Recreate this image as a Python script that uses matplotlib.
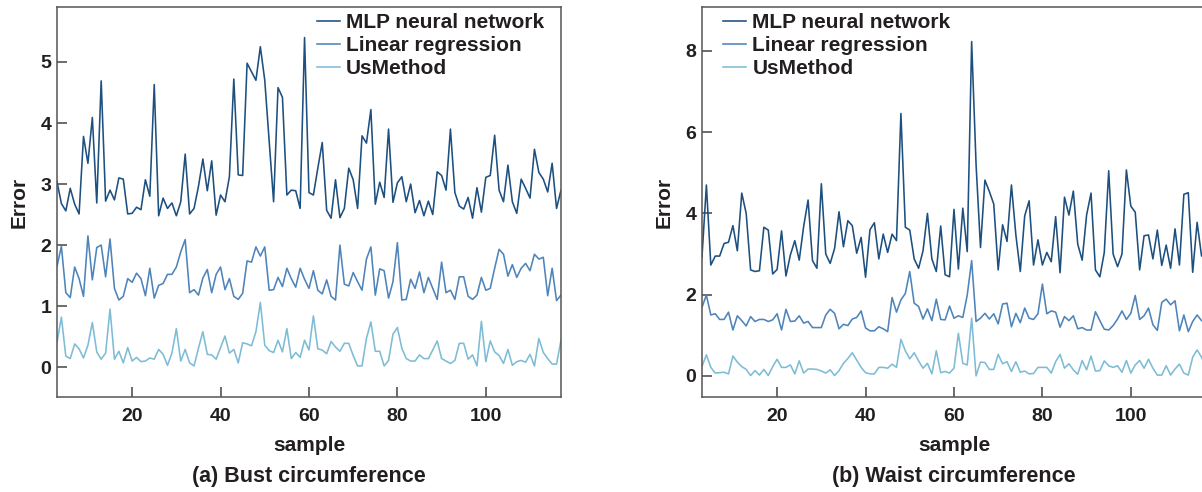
import numpy as np
import matplotlib
matplotlib.use("Agg")
import matplotlib.pyplot as plt

plt.rcParams['font.family'] = ['Liberation Sans', 'DejaVu Sans']
plt.rcParams['font.weight'] = 'bold'
plt.rcParams['axes.labelweight'] = 'bold'

samples = np.arange(3, 118)

# (a) Bust circumference
bust_mlp = [3.04, 2.68, 2.56, 2.93, 2.67, 2.51, 3.78, 3.34, 4.09, 2.69,
            4.69, 2.72, 2.90, 2.74, 3.10, 3.08, 2.51, 2.52, 2.62, 2.58,
            3.07, 2.80, 4.63, 2.48, 2.77, 2.60, 2.69, 2.48, 2.71, 3.49,
            2.51, 2.60, 2.96, 3.41, 2.89, 3.38, 2.49, 2.82, 2.71, 3.12,
            4.72, 3.15, 3.14, 4.98, 4.84, 4.70, 5.25, 4.70, 3.70, 2.71,
            4.58, 4.42, 2.82, 2.90, 2.89, 2.60, 5.40, 2.86, 2.82, 3.26,
            3.68, 2.57, 2.44, 3.07, 2.45, 2.60, 3.26, 3.07, 2.60, 3.79,
            3.67, 4.22, 2.67, 3.03, 2.78, 3.90, 2.70, 3.02, 3.12, 2.71,
            3.00, 2.53, 2.73, 2.48, 2.72, 2.50, 3.20, 3.14, 2.90, 3.90,
            2.86, 2.64, 2.59, 2.78, 2.44, 2.94, 2.54, 3.11, 3.14, 3.80,
            2.90, 2.71, 3.31, 2.71, 2.52, 3.08, 2.93, 2.77, 3.57, 3.19,
            3.08, 2.87, 3.34, 2.60, 2.90]
bust_lr = [1.65, 1.98, 1.22, 1.14, 1.64, 1.45, 1.16, 2.15, 1.43, 1.96,
           2.00, 1.48, 2.10, 1.29, 1.10, 1.16, 1.45, 1.39, 1.54, 1.45,
           1.17, 1.62, 1.13, 1.34, 1.37, 1.52, 1.52, 1.64, 1.89, 2.09,
           1.22, 1.27, 1.18, 1.46, 1.60, 1.22, 1.52, 1.64, 1.27, 1.45,
           1.16, 1.11, 1.21, 1.74, 1.72, 1.97, 1.82, 1.97, 1.26, 1.27,
           1.47, 1.32, 1.62, 1.45, 1.31, 1.62, 1.44, 1.29, 1.58, 1.26,
           1.20, 1.43, 1.16, 1.10, 2.00, 1.36, 1.33, 1.55, 1.40, 1.26,
           1.77, 1.97, 1.18, 1.61, 1.58, 1.13, 1.40, 2.04, 1.10, 1.11,
           1.44, 1.29, 1.56, 1.22, 1.47, 1.29, 1.11, 1.72, 1.22, 1.26,
           1.11, 1.48, 1.48, 1.16, 1.11, 1.18, 1.47, 1.26, 1.29, 1.62,
           1.93, 1.85, 1.49, 1.68, 1.47, 1.62, 1.70, 1.58, 1.85, 1.77,
           1.80, 1.17, 1.62, 1.09, 1.18]
bust_us = [0.40, 0.82, 0.18, 0.14, 0.38, 0.30, 0.15, 0.36, 0.73, 0.25,
           0.13, 0.23, 0.95, 0.13, 0.26, 0.07, 0.32, 0.10, 0.16, 0.09,
           0.10, 0.15, 0.13, 0.29, 0.21, 0.03, 0.23, 0.63, 0.10, 0.29,
           0.07, 0.02, 0.31, 0.58, 0.21, 0.20, 0.13, 0.32, 0.51, 0.23,
           0.29, 0.07, 0.40, 0.38, 0.35, 0.58, 1.06, 0.36, 0.27, 0.24,
           0.44, 0.25, 0.63, 0.14, 0.24, 0.16, 0.44, 0.28, 0.84, 0.30,
           0.28, 0.22, 0.42, 0.33, 0.26, 0.39, 0.39, 0.19, 0.02, 0.02,
           0.47, 0.74, 0.26, 0.26, 0.02, 0.11, 0.54, 0.65, 0.31, 0.14,
           0.10, 0.10, 0.20, 0.14, 0.14, 0.28, 0.43, 0.14, 0.10, 0.06,
           0.11, 0.39, 0.39, 0.13, 0.20, 0.02, 0.75, 0.09, 0.43, 0.25,
           0.19, 0.06, 0.29, 0.03, 0.09, 0.11, 0.08, 0.21, 0.02, 0.47,
           0.24, 0.14, 0.05, 0.05, 0.44]

# (b) Waist circumference
waist_mlp = [2.92, 4.70, 2.73, 2.95, 2.95, 3.26, 3.29, 3.70, 3.08, 4.50,
             4.00, 2.61, 2.57, 2.59, 3.66, 3.59, 2.51, 2.62, 3.57, 2.46,
             2.98, 3.33, 2.85, 3.68, 4.33, 2.84, 2.65, 4.73, 3.00, 2.77,
             3.14, 4.04, 3.18, 3.82, 3.70, 3.02, 3.41, 2.43, 3.60, 3.77,
             2.88, 3.49, 3.04, 3.49, 3.33, 6.46, 3.66, 3.59, 2.88, 2.65,
             3.08, 4.00, 2.88, 2.57, 3.69, 2.49, 2.44, 4.10, 2.63, 4.13,
             3.06, 8.23, 5.20, 3.16, 4.82, 4.54, 4.23, 2.61, 3.72, 3.31,
             4.70, 3.47, 2.57, 3.94, 4.31, 2.73, 3.35, 2.73, 3.04, 2.81,
             3.92, 2.54, 4.40, 3.96, 4.55, 3.24, 2.85, 3.96, 4.50, 2.61,
             2.44, 3.04, 5.05, 3.00, 2.69, 3.00, 5.07, 4.18, 4.03, 2.61,
             3.45, 3.47, 2.88, 3.59, 2.72, 3.22, 2.65, 3.62, 2.73, 4.47,
             4.51, 2.55, 3.78, 2.95, 3.00]
waist_lr = [1.69, 1.99, 1.50, 1.53, 1.39, 1.39, 1.57, 1.13, 1.48, 1.36,
            1.23, 1.46, 1.34, 1.39, 1.39, 1.34, 1.38, 1.53, 1.13, 1.64,
            1.34, 1.35, 1.48, 1.30, 1.34, 1.19, 1.19, 1.19, 1.50, 1.64,
            1.54, 1.16, 1.27, 1.24, 1.40, 1.44, 1.60, 1.18, 1.11, 1.11,
            1.21, 1.16, 1.09, 1.93, 1.57, 1.87, 2.03, 2.57, 1.79, 1.71,
            1.40, 1.65, 1.36, 1.89, 1.39, 1.38, 1.72, 1.42, 1.48, 1.44,
            1.99, 2.84, 1.34, 1.42, 1.54, 1.40, 1.53, 1.28, 1.77, 1.79,
            1.21, 1.54, 1.31, 1.67, 1.42, 1.39, 1.53, 2.26, 1.53, 1.60,
            1.57, 1.20, 1.46, 1.36, 1.48, 1.16, 1.19, 1.13, 1.13, 1.58,
            1.36, 1.15, 1.13, 1.24, 1.40, 1.60, 1.39, 1.54, 1.98, 1.39,
            1.48, 1.67, 1.26, 1.12, 1.81, 1.89, 1.75, 1.85, 1.11, 1.50,
            1.09, 1.34, 1.50, 1.36, 1.34]
waist_us = [0.23, 0.52, 0.21, 0.07, 0.08, 0.09, 0.05, 0.49, 0.34, 0.23,
            0.16, 0.01, 0.13, 0.02, 0.16, 0.01, 0.23, 0.41, 0.21, 0.21,
            0.27, 0.05, 0.37, 0.07, 0.17, 0.17, 0.16, 0.12, 0.07, 0.15,
            0.01, 0.13, 0.31, 0.43, 0.57, 0.39, 0.21, 0.08, 0.05, 0.05,
            0.21, 0.21, 0.19, 0.29, 0.21, 0.90, 0.62, 0.42, 0.57, 0.37,
            0.19, 0.31, 0.05, 0.62, 0.08, 0.11, 0.07, 0.19, 1.05, 0.31,
            0.27, 1.42, 0.00, 0.34, 0.33, 0.16, 0.16, 0.53, 0.30, 0.35,
            0.11, 0.35, 0.09, 0.12, 0.05, 0.06, 0.21, 0.21, 0.21, 0.07,
            0.35, 0.53, 0.19, 0.30, 0.15, 0.04, 0.38, 0.15, 0.49, 0.12,
            0.13, 0.37, 0.25, 0.21, 0.25, 0.09, 0.38, 0.07, 0.27, 0.38,
            0.19, 0.41, 0.19, 0.02, 0.02, 0.25, 0.02, 0.17, 0.29, 0.07,
            0.02, 0.46, 0.64, 0.46, 0.21]

names = ['MLP neural network', 'Linear regression', 'UsMethod']
colors = ['#1d4f7f', '#4e84b9', '#7ebcd6']
text_color = '#231f20'

fig = plt.figure(figsize=(12.02, 4.92), dpi=100)
ax1 = fig.add_axes([0.0474, 0.193, 0.4193, 0.7927])
ax2 = fig.add_axes([0.584, 0.193, 0.4193, 0.7927])

panels = [
    (ax1, [bust_mlp, bust_lr, bust_us], (-0.49, 5.9), [0, 1, 2, 3, 4, 5],
     '(a) Bust circumference', (0.516, 0.985)),
    (ax2, [waist_mlp, waist_lr, waist_us], (-0.52, 9.08), [0, 2, 4, 6, 8],
     '(b) Waist circumference', (0.042, 0.985)),
]

for ax, series, ylim, yticks, caption, leg_pos in panels:
    for vals, name, c in zip(series, names, colors):
        ax.plot(samples, vals, color=c, lw=1.15, label=name)
    ax.set_xlim(3, 117)
    ax.set_ylim(*ylim)
    ax.set_xticks([20, 40, 60, 80, 100])
    ax.set_yticks(yticks)
    ax.tick_params(direction='in', length=7, width=1.1, color='#444444',
                   labelsize=14, labelcolor=text_color)
    ax.tick_params(axis='x', pad=8)
    ax.tick_params(axis='y', pad=4)
    for sp in ax.spines.values():
        sp.set_color('#555555')
        sp.set_linewidth(1.1)
    ax.set_xlabel('sample', fontsize=15, fontweight='bold', color=text_color)
    ax.xaxis.set_label_coords(0.5, -0.123)
    ax.xaxis.label.set_va('center')
    ax.set_ylabel('Error', fontsize=15, fontweight='bold', color=text_color)
    ax.yaxis.set_label_coords(-0.075, 0.5)
    ax.yaxis.label.set_va('center')
    ax.text(0.5, -0.205, caption, transform=ax.transAxes, ha='center',
            va='center', fontsize=15.5, fontweight='bold', color=text_color)
    leg = ax.legend(loc='upper left', bbox_to_anchor=leg_pos, frameon=False,
                    prop={'size': 15, 'weight': 'bold'}, handlelength=1.1,
                    handletextpad=0.3, labelspacing=0.2, borderpad=0,
                    borderaxespad=0)
    for t in leg.get_texts():
        t.set_color(text_color)

fig.savefig('out.png', dpi=100)
